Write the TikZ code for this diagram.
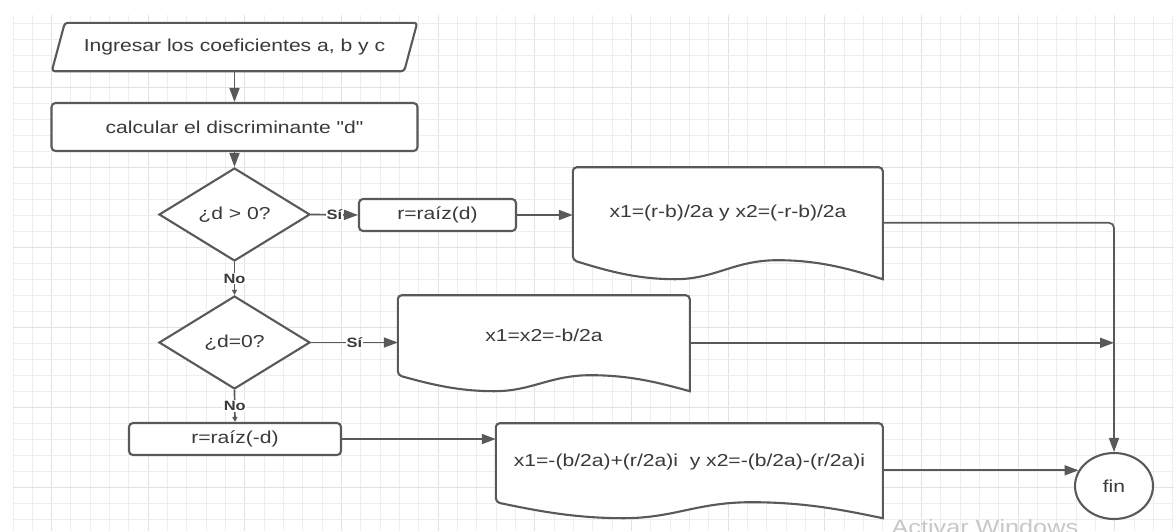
\documentclass[tikz,border=0pt]{standalone}
\usepackage{fontspec}
\setmainfont{Liberation Sans}[FakeStretch=1.22, Ligatures=TeXOff]
\usetikzlibrary{shapes.geometric,arrows.meta,calc}
\pgfdeclarelayer{background}
\pgfsetlayers{background,main}
\definecolor{ln}{HTML}{595959}
\definecolor{tx}{HTML}{3A3A3A}
\definecolor{gmin}{HTML}{EEEEEE}
\definecolor{gmaj}{HTML}{E2E2E2}
\definecolor{wm}{HTML}{C8C8C8}
% document outline: name, width, upper height, wave depth
\newcommand{\docwave}[4]{%
  \begin{pgfonlayer}{background}
  \begin{scope}[shift={(#1.south west)}]
  \filldraw[shapeline,fill=white] (#2,#4) [rounded corners=4pt] -- (#2,-#3) -- (0,-#3) -- (0,0) [sharp corners]
    .. controls ({0.1*#2},{0.5*#4}) and ({0.2*#2},#4) .. ({0.33*#2},#4)
    .. controls ({0.46*#2},#4) and ({0.52*#2},0) .. ({0.66*#2},0)
    .. controls ({0.8*#2},0) and ({0.9*#2},{0.5*#4}) .. (#2,#4) -- cycle;
  \end{scope}
  \end{pgfonlayer}}
\begin{document}
\begin{tikzpicture}[x=1pt,y=-1pt,
  every node/.style={text=tx, font=\fontsize{17.3}{20}\selectfont},
  shapeline/.style={draw=ln, line width=2.1pt},
  proc/.style={shapeline, fill=white, rounded corners=4pt, inner sep=0pt},
  dec/.style={shapeline, fill=white, shape=diamond, aspect=1.62, minimum width=151pt, minimum height=93pt, inner sep=0pt},
  docn/.style={inner sep=0pt},
  con/.style={draw=ln, line width=1.7pt},
  arr/.style={con, -{Triangle[length=14pt,width=10pt]}},
  sarr/.style={con, -{Triangle[length=5pt,width=5pt]}},
  lab/.style={fill=white, inner sep=1pt, text=tx, font=\bfseries\fontsize{13.5}{15}\selectfont},
  gridline/.style={line width=1pt}]
\useasboundingbox (0,0) rectangle (1174,531);
\begin{pgfonlayer}{background}
\fill[white] (0,0) rectangle (1174,531);
\foreach \k in {0,...,60}{%
  \pgfmathsetmacro\xx{13+19.33*\k}%
  \pgfmathtruncatemacro\m{mod(\k,5)}%
  \ifnum\m=2 \draw[gridline,gmaj] (\xx,15) -- (\xx,531);
  \else \draw[gridline,gmin] (\xx,15) -- (\xx,531);\fi}
\foreach \j in {0,...,31}{%
  \pgfmathsetmacro\yy{23+16*\j}%
  \pgfmathtruncatemacro\m{mod(\j,5)}%
  \ifnum\m=4 \draw[gridline,gmaj] (13,\yy) -- (1174,\yy);
  \else \draw[gridline,gmin] (13,\yy) -- (1174,\yy);\fi}
\end{pgfonlayer}

% input (parallelogram)
\node[inner sep=0pt, minimum width=352pt, minimum height=48pt] (in) at (234.5,47) {Ingresar los coeficientes a, b y c};
\begin{pgfonlayer}{background}
\filldraw[shapeline, fill=white, rounded corners=3pt]
  ([xshift=-6.5pt]in.south west) -- ([xshift=6.5pt]in.north west) --
  ([xshift=6.5pt]in.north east) -- ([xshift=-6.5pt]in.south east) -- cycle;
\end{pgfonlayer}

\node[proc, minimum width=366pt, minimum height=48pt] (calc) at (234.5,127) {calcular el discriminante "d"};
\node[dec] (d1) at (234.5,214.5) {¿d > 0?};
\node[proc, minimum width=157pt, minimum height=32pt] (rd) at (437.5,215) {r=raíz(d)};
\node[docn, minimum width=310pt, minimum height=93pt] (doc1) at (728,213.5) {x1=(r-b)/2a y x2=(-r-b)/2a};
\docwave{doc1}{310}{93}{19}
\node[dec] (d2) at (234.5,342.5) {¿d=0?};
\node[docn, minimum width=292pt, minimum height=80pt] (doc2) at (544,335) {x1=x2=-b/2a};
\docwave{doc2}{292}{80}{16}
\node[proc, minimum width=212pt, minimum height=32pt] (rneg) at (235,439) {r=raíz(-d)};
\node[docn, minimum width=387pt, minimum height=79pt] (doc3) at (689.5,462.5) {x1=-(b/2a)+(r/2a)i\ \ y x2=-(b/2a)-(r/2a)i};
\docwave{doc3}{387}{79}{16}
\node[shapeline, fill=white, shape=ellipse, minimum width=78pt, minimum height=66pt, inner sep=0pt] (fin) at (1114,486) {fin};

\node[anchor=base west, text=wm, font=\fontsize{20.7}{24}\selectfont] (wmk) at (888,534) {Activar Windows};

% connectors
\coordinate (c1) at ($(doc1.north east)+(0,56)$);
\coordinate (c2) at ($(doc2.north east)+(0,48)$);
\coordinate (c3) at ($(doc3.north east)+(0,47.5)$);
\draw[arr] (in) -- (calc);
\draw[arr] (calc) -- (d1);
\draw[arr] (d1.east) -- node[lab]{Sí} (rd.west);
\draw[arr] (rd.east) -- (rd.east -| doc1.west);
\draw[arr, rounded corners=5pt] (c1) -| (fin.north);
\draw[sarr] (d1.south) -- node[lab]{No} (d2.north);
\draw[arr] (d2.east) -- node[lab]{Sí} (d2.east -| doc2.west);
\draw[arr] (c2) -- (c2 -| fin.north);
\draw[sarr] (d2.south) -- node[lab]{No} (rneg.north);
\draw[arr] (rneg.east) -- (rneg.east -| doc3.west);
\draw[arr] (c3) -- (c3 -| fin.156);
\end{tikzpicture}
\end{document}
